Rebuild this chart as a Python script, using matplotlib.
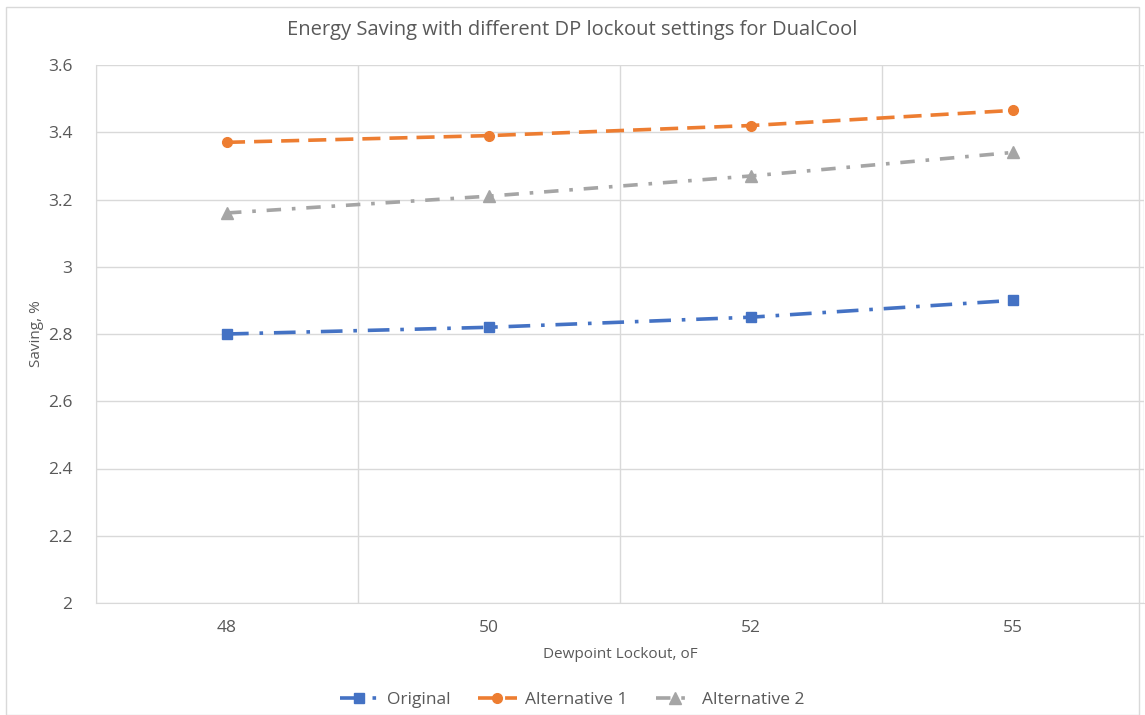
import matplotlib.pyplot as plt
from matplotlib.patches import Rectangle

plt.rcParams["font.family"] = ["Open Sans", "DejaVu Sans"]

# data
lockout = ["48", "50", "52", "55"]
original = [2.80, 2.82, 2.85, 2.90]
alt1 = [3.37, 3.39, 3.42, 3.465]
alt2 = [3.16, 3.21, 3.27, 3.34]

txt = "#595959"
grid = "#d9d9d9"

fig = plt.figure(figsize=(11.45, 7.15), dpi=100)
ax = fig.add_axes([96 / 1145, 1 - 603 / 715, 1048 / 1145, 538 / 715])

x = list(range(len(lockout)))
ax.plot(x, original, color="#4472c4", lw=2.6, dashes=(6, 3, 1, 3),
        marker="s", ms=7, label="Original")
ax.plot(x, alt1, color="#ed7d31", lw=2.6, dashes=(5, 2.5),
        marker="o", ms=7, label="Alternative 1")
ax.plot(x, alt2, color="#a5a5a5", lw=2.6, dashes=(4, 3, 1, 3),
        marker="^", ms=9, label="Alternative 2")

ax.set_xlim(-0.5, len(lockout) - 0.5)
ax.set_ylim(2, 3.6)
ax.set_xticks(x)
ax.set_xticklabels(lockout)
ax.set_yticks([2, 2.2, 2.4, 2.6, 2.8, 3, 3.2, 3.4, 3.6])
ax.set_yticklabels(["2", "2.2", "2.4", "2.6", "2.8", "3", "3.2", "3.4", "3.6"])
ax.set_xticks([i + 0.5 for i in range(-1, len(lockout))], minor=True)
ax.grid(True, which="minor", axis="x", color=grid, lw=1)
ax.grid(True, which="major", axis="y", color=grid, lw=1)
ax.set_axisbelow(True)
ax.tick_params(which="both", length=0, colors=txt, labelsize=12.5, pad=12)
ax.tick_params(axis="y", pad=17)
for s in ax.spines.values():
    s.set_color(grid)
ax.spines["right"].set_visible(False)
ax.spines["top"].set_visible(False)

ax.set_xlabel("Dewpoint Lockout, oF", color=txt, fontsize=11, labelpad=8)
ax.set_ylabel("Saving, %", color=txt, fontsize=11)
ax.yaxis.set_label_coords(-0.05, 0.5)
fig.text(0.5, 1 - 30 / 715, "Energy Saving with different DP lockout settings for DualCool",
         ha="center", va="center", color=txt, fontsize=14.5)

leg = fig.legend(loc="center", bbox_to_anchor=(0.5, 1 - 700 / 715), ncol=3,
                 frameon=False, fontsize=12.5, handlelength=2.2,
                 handletextpad=0.5, columnspacing=1.6)
for t in leg.get_texts():
    t.set_color(txt)

fig.patches.append(Rectangle((6 / 1145, 0), 1 - 12 / 1145, 1 - 7 / 715,
                             transform=fig.transFigure, fill=False,
                             edgecolor=grid, lw=1))

fig.savefig("out.png", dpi=100)
